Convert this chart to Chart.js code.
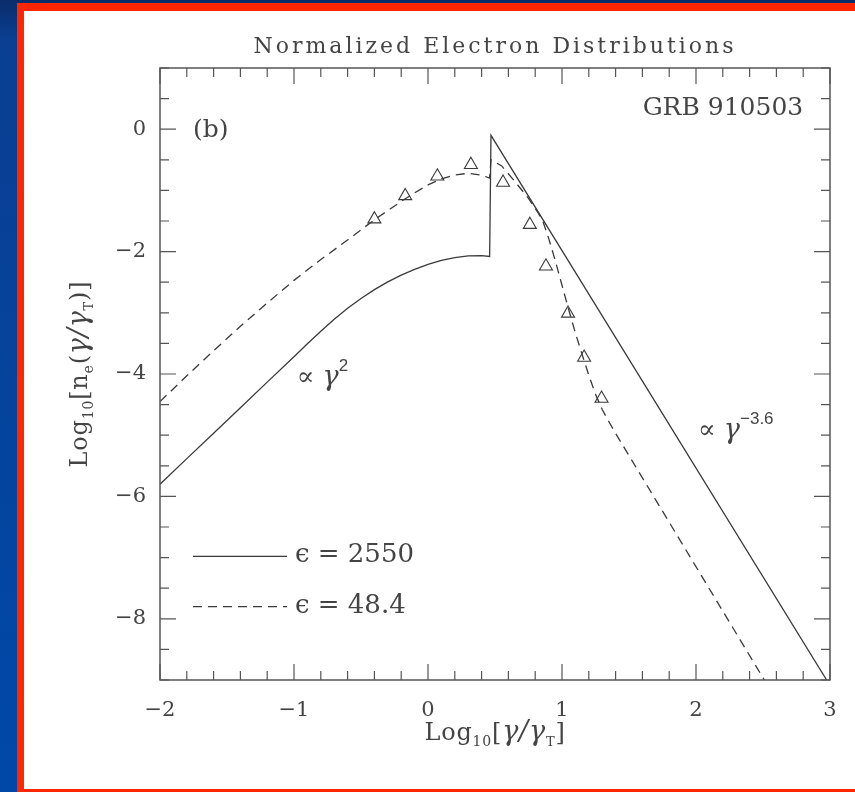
<!DOCTYPE html>
<html>
<head>
<meta charset="utf-8">
<script src="https://cdn.jsdelivr.net/npm/chart.js@4.4.1/dist/chart.umd.min.js"></script>
<style>
  html, body { margin: 0; padding: 0; }
  body {
    width: 855px; height: 792px; overflow: hidden; position: relative;
    background: linear-gradient(to bottom, #0b2c6a 0px, #0a3f92 40px, #0048a8 792px);
  }
  #frame { position: absolute; left: 17px; top: 3px; right: 0; bottom: 0; background: #ff2600; }
  #panel { position: absolute; left: 24px; top: 11px; width: 831px; height: 778px; background: #fff; }
</style>
</head>
<body>
<div id="frame"></div>
<div id="panel"><canvas id="dist" width="831" height="778"></canvas></div>
<script>
// log10(gamma/gamma_T) and log10 n_e for the two electron distributions
const solidX = [-2.0, -1.8, -1.6, -1.4, -1.2, -1.0, -0.9, -0.8, -0.7, -0.6, -0.5, -0.4, -0.3, -0.2, -0.1, 0.0, 0.1, 0.2, 0.3, 0.4, 0.46, 0.47, 2.975];
const solidY = [-5.80, -5.383, -4.967, -4.55, -4.133, -3.717, -3.507, -3.302, -3.107, -2.927, -2.765, -2.621, -2.494, -2.384, -2.289, -2.209, -2.145, -2.098, -2.070, -2.065, -2.08, -0.10, -9.0];

const dashX = [-2.0, -1.8, -1.6, -1.4, -1.2, -1.0, -0.8, -0.6, -0.4, -0.2, -0.1, 0.0, 0.1, 0.2, 0.3, 0.4, 0.46, 0.47, 0.55, 0.65, 0.75, 0.82, 0.86, 0.9, 0.95, 1.0, 1.05, 1.1, 1.15, 1.2, 1.25, 1.3, 1.35, 1.4, 2.51];
const dashY = [-4.45, -4.03, -3.62, -3.22, -2.84, -2.47, -2.13, -1.81, -1.48, -1.18, -1.04, -0.91, -0.81, -0.75, -0.72, -0.75, -0.80, -0.50, -0.60, -0.86, -1.13, -1.36, -1.52, -1.78, -2.15, -2.55, -2.95, -3.33, -3.68, -4.02, -4.33, -4.58, -4.78, -4.97, -9.0];

// observed points (open triangles)
const obsX = [-0.40, -0.17, 0.07, 0.32, 0.56, 0.76, 0.88, 1.045, 1.165, 1.295];
const obsY = [-1.47, -1.09, -0.77, -0.58, -0.87, -1.56, -2.24, -3.01, -3.73, -4.40];

const seriesLabels = ["ϵ = 2550", "ϵ = 48.4"];
const xTicks = [-2, -1, 0, 1, 2, 3];
const yTicks = [-8, -6, -4, -2, 0];

const ink = "#444";
const serif = "'DejaVu Serif', 'Liberation Serif', serif";
const sans = "'Liberation Sans', 'DejaVu Sans', sans-serif";

function pairs(xs, ys) {
  return xs.map((v, i) => ({ x: v, y: ys[i] }));
}

function fmt(v) {
  return v < 0 ? "\u2212" + Math.abs(v) : String(v);
}

// draws a row of text pieces (for sub/superscripts); runs = [text, size, dy, italic, family]
function richText(ctx, runs, x, y, align, spacing) {
  ctx.letterSpacing = (spacing || 0) + "px";
  const setFont = r => { ctx.font = (r[3] ? "italic " : "") + r[1] + "px " + (r[4] || serif); };
  let w = 0;
  runs.forEach(r => { setFont(r); w += ctx.measureText(r[0]).width; });
  let cx = align === "center" ? x - w / 2 : align === "right" ? x - w : x;
  runs.forEach(r => {
    setFont(r);
    ctx.fillText(r[0], cx, y + (r[2] || 0));
    cx += ctx.measureText(r[0]).width;
  });
  ctx.letterSpacing = "0px";
}

const decor = {
  id: "decor",
  afterDraw(chart) {
    const { ctx, chartArea: a, scales: { x, y } } = chart;
    ctx.save();

    // box and inward ticks on all four sides
    ctx.strokeStyle = "#555";
    ctx.lineWidth = 1.5;
    ctx.strokeRect(a.left, a.top, a.right - a.left, a.bottom - a.top);
    ctx.lineWidth = 1.2;
    ctx.beginPath();
    for (let i = 0; i <= 25; i++) {
      const v = x.min + i * 0.2;
      const len = Math.abs(v - Math.round(v)) < 1e-6 ? 16 : 9;
      const px = x.getPixelForValue(v);
      ctx.moveTo(px, a.bottom); ctx.lineTo(px, a.bottom - len);
      ctx.moveTo(px, a.top); ctx.lineTo(px, a.top + len);
    }
    for (let i = 0; i <= 20; i++) {
      const v = y.min + i * 0.5;
      const len = Math.abs(v / 2 - Math.round(v / 2)) < 1e-6 ? 16 : 9;
      const py = y.getPixelForValue(v);
      ctx.moveTo(a.left, py); ctx.lineTo(a.left + len, py);
      ctx.moveTo(a.right, py); ctx.lineTo(a.right - len, py);
    }
    ctx.stroke();

    ctx.fillStyle = ink;
    ctx.textBaseline = "alphabetic";
    ctx.textAlign = "left";

    // title
    richText(ctx, [["Normalized Electron Distributions", 22]], (a.left + a.right) / 2, 42, "center", 3);

    // axis titles
    richText(ctx, [["Log", 24], ["10", 14, 6], ["[", 24], ["γ/γ", 27, 0, true], ["T", 13, 6], ["]", 24]],
      (a.left + a.right) / 2, 729, "center", 0.8);
    ctx.save();
    ctx.translate(63, (a.top + a.bottom) / 2);
    ctx.rotate(-Math.PI / 2);
    richText(ctx, [["Log", 24], ["10", 14, 6], ["[n", 24], ["e", 14, 6], ["(", 24], ["γ/γ", 27, 0, true], ["T", 13, 6], [")]", 24]],
      0, 0, "center", 0.8);
    ctx.restore();

    // panel labels
    ctx.font = "25px " + serif;
    ctx.fillText("(b)", x.getPixelForValue(-1.754), y.getPixelForValue(-0.13));
    ctx.textAlign = "right";
    ctx.fillText("GRB 910503", x.getPixelForValue(2.8), y.getPixelForValue(0.23));
    ctx.textAlign = "left";

    // slope labels
    richText(ctx, [["∝ ", 26], ["γ", 27, 0, true], ["2", 17, -14, false, sans]],
      x.getPixelForValue(-0.98), y.getPixelForValue(-4.18), "left");
    richText(ctx, [["∝ ", 26], ["γ", 27, 0, true], ["\u22123.6", 17, -14, false, sans]],
      x.getPixelForValue(2.015), y.getPixelForValue(-5.04), "left");

    // key
    const ds = chart.data.datasets;
    [[0, -6.98, -7.08], [1, -7.80, -7.90]].forEach(([i, ly, ty]) => {
      ctx.strokeStyle = ds[i].borderColor;
      ctx.lineWidth = ds[i].borderWidth;
      ctx.setLineDash(ds[i].borderDash || []);
      ctx.beginPath();
      ctx.moveTo(x.getPixelForValue(-1.754), y.getPixelForValue(ly));
      ctx.lineTo(x.getPixelForValue(-1.052), y.getPixelForValue(ly));
      ctx.stroke();
      ctx.setLineDash([]);
      ctx.font = "26px " + serif;
      ctx.fillText(ds[i].label, x.getPixelForValue(-0.993), y.getPixelForValue(ty));
    });

    ctx.restore();
  }
};

new Chart(document.getElementById("dist"), {
  type: "line",
  data: {
    datasets: [
      {
        label: seriesLabels[0],
        data: pairs(solidX, solidY),
        borderColor: "#3a3a3a",
        borderWidth: 1.3,
        pointRadius: 0,
        tension: 0,
      },
      {
        label: seriesLabels[1],
        data: pairs(dashX, dashY),
        borderColor: "#3a3a3a",
        borderWidth: 1.3,
        borderDash: [9, 6],
        pointRadius: 0,
        tension: 0,
      },
      {
        label: "data",
        data: pairs(obsX, obsY),
        showLine: false,
        pointStyle: "triangle",
        pointRadius: 7.5,
        pointBorderWidth: 1.1,
        pointBorderColor: "#3a3a3a",
        pointBackgroundColor: "rgba(0,0,0,0)",
      },
    ],
  },
  options: {
    responsive: false,
    animation: false,
    layout: { padding: { left: 76, top: 57, right: 25, bottom: 54 } },
    plugins: {
      legend: { display: false },
      title: { display: false },
      tooltip: { enabled: false },
    },
    scales: {
      x: {
        type: "linear",
        min: -2,
        max: 3,
        afterBuildTicks: s => { s.ticks = xTicks.map(v => ({ value: v })); },
        afterFit: s => { s.height = 55; },
        grid: { display: false, drawTicks: false },
        border: { display: false },
        ticks: { padding: 18, color: ink, font: { family: serif, size: 21 }, callback: fmt, maxRotation: 0 },
      },
      y: {
        type: "linear",
        min: -9,
        max: 1,
        afterBuildTicks: s => { s.ticks = yTicks.map(v => ({ value: v })); },
        afterFit: s => { s.width = 60; },
        grid: { display: false, drawTicks: false },
        border: { display: false },
        ticks: { padding: 14, color: ink, font: { family: serif, size: 21 }, callback: fmt },
      },
    },
  },
  plugins: [decor],
});
</script>
</body>
</html>
